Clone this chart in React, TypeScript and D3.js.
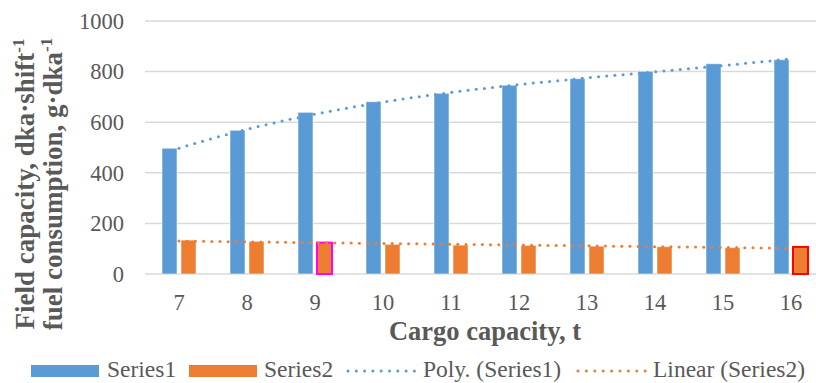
import React from "react";
import * as d3 from "d3";

const categories = ["7", "8", "9", "10", "11", "12", "13", "14", "15", "16"];
const series1 = [497, 568, 639, 681, 714, 746, 772, 801, 831, 847];
const series2 = [134, 129, 124, 117, 114, 113, 110, 108, 104, 107];
const yTicks = [0, 200, 400, 600, 800, 1000];
const legendLabels = ["Series1", "Series2", "Poly. (Series1)", "Linear (Series2)"];
const highlighted = [
  { index: 2, color: "#ff00ff" },
  { index: 9, color: "#ff0000" },
];

const W = 816;
const H = 383;
const BLUE = "#5b9bd5";
const ORANGE = "#ed7d31";
const TEXT = "#595959";
const GRID = "#d9d9d9";
const FONT = "Liberation Serif, Times New Roman, DejaVu Serif, serif";

// least squares polynomial fit on x = 1..n
function polyFit(ys: number[], degree: number): (x: number) => number {
  const n = degree + 1;
  const A: number[][] = [];
  for (let r = 0; r < n; r++) {
    const row: number[] = [];
    for (let c = 0; c <= n; c++) row.push(0);
    A.push(row);
  }
  for (let i = 0; i < ys.length; i++) {
    const xv = i + 1;
    for (let r = 0; r < n; r++) {
      for (let c = 0; c < n; c++) A[r][c] += Math.pow(xv, r + c);
      A[r][n] += ys[i] * Math.pow(xv, r);
    }
  }
  for (let i = 0; i < n; i++) {
    let p = i;
    for (let k = i + 1; k < n; k++) if (Math.abs(A[k][i]) > Math.abs(A[p][i])) p = k;
    const tmp = A[i];
    A[i] = A[p];
    A[p] = tmp;
    for (let k = 0; k < n; k++) {
      if (k === i) continue;
      const f = A[k][i] / A[i][i];
      for (let c = 0; c <= n; c++) A[k][c] -= f * A[i][c];
    }
  }
  const coef: number[] = [];
  for (let i = 0; i < n; i++) coef.push(A[i][n] / A[i][i]);
  return (xv: number) => {
    let s = 0;
    for (let i = 0; i < n; i++) s += coef[i] * Math.pow(xv, i);
    return s;
  };
}

// place dots every `gap` px along a polyline
function dotsAlong(pts: [number, number][], gap: number): [number, number][] {
  const out: [number, number][] = [pts[0]];
  let carry = 0;
  for (let i = 1; i < pts.length; i++) {
    const [x0, y0] = pts[i - 1];
    const [x1, y1] = pts[i];
    const seg = Math.hypot(x1 - x0, y1 - y0);
    let d = gap - carry;
    while (d <= seg) {
      const t = d / seg;
      out.push([x0 + (x1 - x0) * t, y0 + (y1 - y0) * t]);
      d += gap;
    }
    carry = seg - (d - gap);
  }
  return out;
}

export default function App() {
  const x = d3.scaleBand<string>().domain(categories).range([145, 825]).padding(0);
  const y = d3.scaleLinear().domain([0, 1000]).range([274, 21]);
  const sub = d3
    .scaleBand<string>()
    .domain(["s1", "s2"])
    .range([0, 34])
    .paddingInner(4 / 19)
    .paddingOuter(0);
  const center = (c: string) => (x(c) as number) + x.bandwidth() / 2;
  const bw = sub.bandwidth();

  const polyF = polyFit(series1, 3);
  const linF = polyFit(series2, 1);
  const samples = d3.range(1, 10.0001, 0.05);
  const xIdx = d3
    .scaleLinear()
    .domain([1, categories.length])
    .range([center(categories[0]), center(categories[categories.length - 1])]);
  const polyPts: [number, number][] = samples.map((t) => [xIdx(t), y(polyF(t))]);
  const linPts: [number, number][] = samples.map((t) => [xIdx(t), y(linF(t))]);
  const polyDots = dotsAlong(polyPts, 8.2);
  const linDots = dotsAlong(linPts, 8.2);

  const legBlueDots = dotsAlong([[348, 371], [415, 371]], 8.3);
  const legOrangeDots = dotsAlong([[578, 371], [646, 371]], 8.4);

  const R = 1.5;

  return (
    <svg
      width={W}
      height={H}
      style={{ position: "absolute", left: 0, top: 0, background: "#fff" }}
    >
      {yTicks.map((t) => (
        <line key={t} x1={145} x2={W} y1={y(t)} y2={y(t)} stroke={GRID} strokeWidth={1.5} />
      ))}
      {yTicks.map((t) => (
        <text key={"yl" + t} x={124} y={y(t)} dy="0.35em" textAnchor="end" fontSize={22.5} fontFamily={FONT} fill={TEXT}>
          {t}
        </text>
      ))}
      {categories.map((c, i) => {
        const gx = center(c) - 17;
        return (
          <g key={c}>
            <rect
              x={gx + (sub("s1") as number)}
              y={y(series1[i])}
              width={bw}
              height={y(0) - y(series1[i])}
              fill={BLUE}
              stroke="#ffffff"
              strokeOpacity={0.5}
              strokeWidth={1}
            />
            <rect
              x={gx + (sub("s2") as number)}
              y={y(series2[i])}
              width={bw}
              height={y(0) - y(series2[i])}
              fill={ORANGE}
              stroke="#ffffff"
              strokeOpacity={0.5}
              strokeWidth={1}
            />
          </g>
        );
      })}
      {highlighted.map((h) => {
        const c = categories[h.index];
        const bx = center(c) - 17 + (sub("s2") as number);
        return (
          <rect
            key={"h" + h.index}
            x={bx}
            y={y(series2[h.index])}
            width={bw}
            height={y(0) - y(series2[h.index])}
            fill="none"
            stroke={h.color}
            strokeWidth={2}
          />
        );
      })}
      {polyDots.map((p, i) => (
        <circle key={"pd" + i} cx={p[0]} cy={p[1]} r={R} fill={BLUE} />
      ))}
      {linDots.map((p, i) => (
        <circle key={"ld" + i} cx={p[0]} cy={p[1]} r={R} fill={ORANGE} />
      ))}
      {categories.map((c) => (
        <text key={"xl" + c} x={center(c)} y={310} textAnchor="middle" fontSize={22.5} fontFamily={FONT} fill={TEXT}>
          {c}
        </text>
      ))}
      <text x={485} y={340} textAnchor="middle" fontSize={26.5} fontWeight="bold" fontFamily={FONT} fill={TEXT}>
        Cargo capacity, t
      </text>
      <g transform="translate(0,184) rotate(-90)">
        <text x={0} y={34} textAnchor="middle" fontSize={27} fontWeight="bold" fontFamily={FONT} fill={TEXT}>
          Field capacity, dka·shift
          <tspan fontSize={17} dy={-10}>-1</tspan>
        </text>
        <text x={0} y={62} textAnchor="middle" fontSize={27} fontWeight="bold" fontFamily={FONT} fill={TEXT}>
          fuel consumption, g·dka
          <tspan fontSize={17} dy={-10}>-1</tspan>
        </text>
      </g>
      <rect x={31} y={365} width={68} height={12} fill={BLUE} />
      <text x={107} y={377} fontSize={23.5} fontFamily={FONT} fill={TEXT}>{legendLabels[0]}</text>
      <rect x={189} y={365} width={68} height={12} fill={ORANGE} />
      <text x={264} y={377} fontSize={23.5} fontFamily={FONT} fill={TEXT}>{legendLabels[1]}</text>
      {legBlueDots.map((p, i) => (
        <circle key={"lb" + i} cx={p[0]} cy={p[1]} r={R} fill={BLUE} />
      ))}
      <text x={423} y={377} fontSize={23.5} fontFamily={FONT} fill={TEXT}>{legendLabels[2]}</text>
      {legOrangeDots.map((p, i) => (
        <circle key={"lo" + i} cx={p[0]} cy={p[1]} r={R} fill={ORANGE} />
      ))}
      <text x={653} y={377} fontSize={23.5} fontFamily={FONT} fill={TEXT}>{legendLabels[3]}</text>
    </svg>
  );
}
